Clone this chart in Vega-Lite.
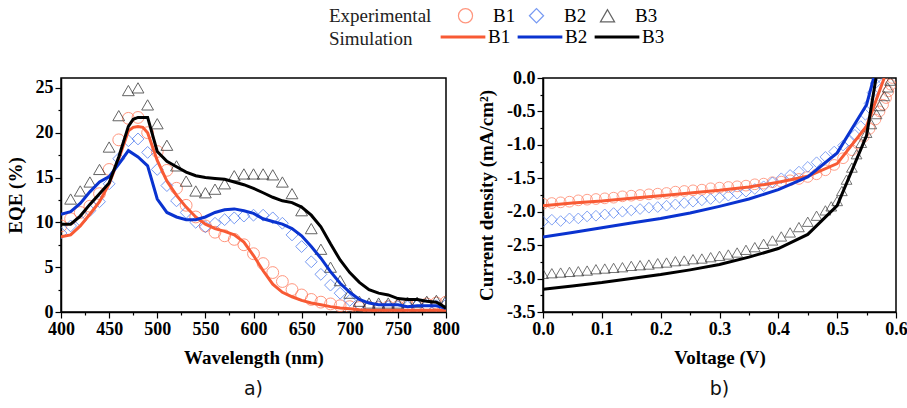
{
 "$schema": "https://vega.github.io/schema/vega-lite/v6.json",
 "background": "white",
 "padding": {"left": 5, "top": 6, "right": 5, "bottom": 5},
 "datasets": {
  "eqeExp": [
   {"wl":400,"eqe":9.6,"sample":"B1"},{"wl":410,"eqe":10.4,"sample":"B1"},{"wl":420,"eqe":11.1,"sample":"B1"},{"wl":430,"eqe":11.8,"sample":"B1"},{"wl":440,"eqe":13.2,"sample":"B1"},{"wl":450,"eqe":15.9,"sample":"B1"},{"wl":460,"eqe":19.2,"sample":"B1"},{"wl":470,"eqe":21.6,"sample":"B1"},{"wl":480,"eqe":21.7,"sample":"B1"},{"wl":490,"eqe":20.0,"sample":"B1"},{"wl":500,"eqe":17.9,"sample":"B1"},{"wl":510,"eqe":15.8,"sample":"B1"},{"wl":520,"eqe":13.8,"sample":"B1"},{"wl":530,"eqe":11.9,"sample":"B1"},{"wl":540,"eqe":10.6,"sample":"B1"},{"wl":550,"eqe":9.6,"sample":"B1"},{"wl":560,"eqe":8.9,"sample":"B1"},{"wl":570,"eqe":8.5,"sample":"B1"},{"wl":580,"eqe":8.1,"sample":"B1"},{"wl":590,"eqe":7.5,"sample":"B1"},{"wl":600,"eqe":6.5,"sample":"B1"},{"wl":610,"eqe":5.4,"sample":"B1"},{"wl":620,"eqe":4.4,"sample":"B1"},{"wl":630,"eqe":3.4,"sample":"B1"},{"wl":640,"eqe":2.5,"sample":"B1"},{"wl":650,"eqe":1.9,"sample":"B1"},{"wl":660,"eqe":1.4,"sample":"B1"},{"wl":670,"eqe":1.1,"sample":"B1"},{"wl":680,"eqe":0.9,"sample":"B1"},{"wl":690,"eqe":0.7,"sample":"B1"},{"wl":700,"eqe":0.6,"sample":"B1"},{"wl":710,"eqe":0.5,"sample":"B1"},{"wl":720,"eqe":0.5,"sample":"B1"},{"wl":730,"eqe":0.5,"sample":"B1"},{"wl":740,"eqe":0.6,"sample":"B1"},{"wl":750,"eqe":0.6,"sample":"B1"},{"wl":760,"eqe":0.7,"sample":"B1"},{"wl":770,"eqe":0.8,"sample":"B1"},{"wl":780,"eqe":0.9,"sample":"B1"},{"wl":790,"eqe":1.0,"sample":"B1"},{"wl":800,"eqe":1.1,"sample":"B1"},
   {"wl":400,"eqe":8.8,"sample":"B2"},{"wl":410,"eqe":9.6,"sample":"B2"},{"wl":420,"eqe":10.2,"sample":"B2"},{"wl":430,"eqe":11.3,"sample":"B2"},{"wl":440,"eqe":12.3,"sample":"B2"},{"wl":450,"eqe":14.3,"sample":"B2"},{"wl":460,"eqe":17.1,"sample":"B2"},{"wl":470,"eqe":19.1,"sample":"B2"},{"wl":480,"eqe":19.3,"sample":"B2"},{"wl":490,"eqe":17.8,"sample":"B2"},{"wl":500,"eqe":15.9,"sample":"B2"},{"wl":510,"eqe":14.1,"sample":"B2"},{"wl":520,"eqe":12.4,"sample":"B2"},{"wl":530,"eqe":11.1,"sample":"B2"},{"wl":540,"eqe":10.0,"sample":"B2"},{"wl":550,"eqe":9.5,"sample":"B2"},{"wl":560,"eqe":9.9,"sample":"B2"},{"wl":570,"eqe":10.3,"sample":"B2"},{"wl":580,"eqe":10.5,"sample":"B2"},{"wl":590,"eqe":10.7,"sample":"B2"},{"wl":600,"eqe":10.8,"sample":"B2"},{"wl":610,"eqe":10.8,"sample":"B2"},{"wl":620,"eqe":10.5,"sample":"B2"},{"wl":630,"eqe":9.9,"sample":"B2"},{"wl":640,"eqe":8.6,"sample":"B2"},{"wl":650,"eqe":7.3,"sample":"B2"},{"wl":660,"eqe":5.6,"sample":"B2"},{"wl":670,"eqe":4.2,"sample":"B2"},{"wl":680,"eqe":3.0,"sample":"B2"},{"wl":690,"eqe":2.1,"sample":"B2"},{"wl":700,"eqe":1.3,"sample":"B2"},{"wl":710,"eqe":0.8,"sample":"B2"},{"wl":720,"eqe":0.6,"sample":"B2"},{"wl":730,"eqe":0.6,"sample":"B2"},{"wl":740,"eqe":0.6,"sample":"B2"},{"wl":750,"eqe":0.6,"sample":"B2"},{"wl":760,"eqe":0.6,"sample":"B2"},{"wl":770,"eqe":0.7,"sample":"B2"},{"wl":780,"eqe":0.7,"sample":"B2"},{"wl":790,"eqe":0.7,"sample":"B2"},{"wl":800,"eqe":0.8,"sample":"B2"},
   {"wl":410,"eqe":12.6,"sample":"B3"},{"wl":420,"eqe":13.5,"sample":"B3"},{"wl":430,"eqe":14.5,"sample":"B3"},{"wl":440,"eqe":15.9,"sample":"B3"},{"wl":450,"eqe":18.4,"sample":"B3"},{"wl":460,"eqe":21.9,"sample":"B3"},{"wl":470,"eqe":24.7,"sample":"B3"},{"wl":480,"eqe":25.0,"sample":"B3"},{"wl":490,"eqe":23.1,"sample":"B3"},{"wl":500,"eqe":21.0,"sample":"B3"},{"wl":510,"eqe":18.6,"sample":"B3"},{"wl":520,"eqe":16.3,"sample":"B3"},{"wl":530,"eqe":14.6,"sample":"B3"},{"wl":540,"eqe":13.5,"sample":"B3"},{"wl":550,"eqe":13.3,"sample":"B3"},{"wl":560,"eqe":13.7,"sample":"B3"},{"wl":570,"eqe":14.3,"sample":"B3"},{"wl":580,"eqe":15.2,"sample":"B3"},{"wl":590,"eqe":15.4,"sample":"B3"},{"wl":600,"eqe":15.4,"sample":"B3"},{"wl":610,"eqe":15.4,"sample":"B3"},{"wl":620,"eqe":15.3,"sample":"B3"},{"wl":630,"eqe":14.5,"sample":"B3"},{"wl":640,"eqe":13.2,"sample":"B3"},{"wl":650,"eqe":11.3,"sample":"B3"},{"wl":660,"eqe":9.3,"sample":"B3"},{"wl":670,"eqe":7.0,"sample":"B3"},{"wl":680,"eqe":5.0,"sample":"B3"},{"wl":690,"eqe":3.5,"sample":"B3"},{"wl":700,"eqe":2.1,"sample":"B3"},{"wl":710,"eqe":1.2,"sample":"B3"},{"wl":720,"eqe":1.0,"sample":"B3"},{"wl":730,"eqe":1.0,"sample":"B3"},{"wl":740,"eqe":1.0,"sample":"B3"},{"wl":750,"eqe":1.0,"sample":"B3"},{"wl":760,"eqe":1.1,"sample":"B3"},{"wl":770,"eqe":1.1,"sample":"B3"},{"wl":780,"eqe":1.2,"sample":"B3"},{"wl":790,"eqe":1.3,"sample":"B3"},{"wl":800,"eqe":1.3,"sample":"B3"}
  ],
  "eqeSim": [
   {"wl":400,"eqe":8.4,"curve":"B1"},{"wl":410,"eqe":8.6,"curve":"B1"},{"wl":420,"eqe":9.6,"curve":"B1"},{"wl":430,"eqe":10.9,"curve":"B1"},{"wl":440,"eqe":12.3,"curve":"B1"},{"wl":450,"eqe":14.3,"curve":"B1"},{"wl":460,"eqe":17.1,"curve":"B1"},{"wl":470,"eqe":20.2,"curve":"B1"},{"wl":475,"eqe":20.6,"curve":"B1"},{"wl":480,"eqe":20.7,"curve":"B1"},{"wl":485,"eqe":20.6,"curve":"B1"},{"wl":490,"eqe":20.0,"curve":"B1"},{"wl":500,"eqe":16.9,"curve":"B1"},{"wl":510,"eqe":14.6,"curve":"B1"},{"wl":520,"eqe":13.0,"curve":"B1"},{"wl":530,"eqe":11.7,"curve":"B1"},{"wl":540,"eqe":10.6,"curve":"B1"},{"wl":550,"eqe":9.8,"curve":"B1"},{"wl":560,"eqe":9.3,"curve":"B1"},{"wl":570,"eqe":9.0,"curve":"B1"},{"wl":580,"eqe":8.6,"curve":"B1"},{"wl":590,"eqe":7.8,"curve":"B1"},{"wl":600,"eqe":6.3,"curve":"B1"},{"wl":610,"eqe":4.6,"curve":"B1"},{"wl":620,"eqe":3.1,"curve":"B1"},{"wl":630,"eqe":2.2,"curve":"B1"},{"wl":640,"eqe":1.7,"curve":"B1"},{"wl":650,"eqe":1.3,"curve":"B1"},{"wl":660,"eqe":1.0,"curve":"B1"},{"wl":670,"eqe":0.8,"curve":"B1"},{"wl":680,"eqe":0.6,"curve":"B1"},{"wl":690,"eqe":0.45,"curve":"B1"},{"wl":700,"eqe":0.35,"curve":"B1"},{"wl":710,"eqe":0.25,"curve":"B1"},{"wl":720,"eqe":0.2,"curve":"B1"},{"wl":760,"eqe":0.2,"curve":"B1"},{"wl":800,"eqe":0.2,"curve":"B1"},
   {"wl":400,"eqe":10.9,"curve":"B2"},{"wl":410,"eqe":11.2,"curve":"B2"},{"wl":420,"eqe":12.1,"curve":"B2"},{"wl":430,"eqe":13.4,"curve":"B2"},{"wl":440,"eqe":14.5,"curve":"B2"},{"wl":450,"eqe":15.1,"curve":"B2"},{"wl":460,"eqe":16.5,"curve":"B2"},{"wl":470,"eqe":18.0,"curve":"B2"},{"wl":480,"eqe":17.3,"curve":"B2"},{"wl":490,"eqe":16.3,"curve":"B2"},{"wl":500,"eqe":12.6,"curve":"B2"},{"wl":510,"eqe":11.1,"curve":"B2"},{"wl":520,"eqe":10.6,"curve":"B2"},{"wl":530,"eqe":10.3,"curve":"B2"},{"wl":540,"eqe":10.3,"curve":"B2"},{"wl":550,"eqe":10.6,"curve":"B2"},{"wl":560,"eqe":11.1,"curve":"B2"},{"wl":570,"eqe":11.4,"curve":"B2"},{"wl":580,"eqe":11.5,"curve":"B2"},{"wl":590,"eqe":11.3,"curve":"B2"},{"wl":600,"eqe":11.0,"curve":"B2"},{"wl":610,"eqe":10.4,"curve":"B2"},{"wl":620,"eqe":10.1,"curve":"B2"},{"wl":630,"eqe":9.8,"curve":"B2"},{"wl":640,"eqe":9.3,"curve":"B2"},{"wl":650,"eqe":8.5,"curve":"B2"},{"wl":660,"eqe":7.3,"curve":"B2"},{"wl":670,"eqe":6.0,"curve":"B2"},{"wl":680,"eqe":4.5,"curve":"B2"},{"wl":690,"eqe":3.2,"curve":"B2"},{"wl":700,"eqe":2.2,"curve":"B2"},{"wl":710,"eqe":1.4,"curve":"B2"},{"wl":720,"eqe":1.0,"curve":"B2"},{"wl":730,"eqe":0.8,"curve":"B2"},{"wl":740,"eqe":0.8,"curve":"B2"},{"wl":750,"eqe":0.8,"curve":"B2"},{"wl":760,"eqe":0.6,"curve":"B2"},{"wl":770,"eqe":0.7,"curve":"B2"},{"wl":780,"eqe":0.7,"curve":"B2"},{"wl":790,"eqe":0.7,"curve":"B2"},{"wl":800,"eqe":0.4,"curve":"B2"},
   {"wl":400,"eqe":9.8,"curve":"B3"},{"wl":410,"eqe":9.8,"curve":"B3"},{"wl":420,"eqe":10.7,"curve":"B3"},{"wl":430,"eqe":12.0,"curve":"B3"},{"wl":440,"eqe":13.2,"curve":"B3"},{"wl":450,"eqe":14.4,"curve":"B3"},{"wl":460,"eqe":17.3,"curve":"B3"},{"wl":470,"eqe":20.7,"curve":"B3"},{"wl":475,"eqe":21.5,"curve":"B3"},{"wl":480,"eqe":21.7,"curve":"B3"},{"wl":490,"eqe":21.7,"curve":"B3"},{"wl":500,"eqe":17.9,"curve":"B3"},{"wl":510,"eqe":16.8,"curve":"B3"},{"wl":520,"eqe":16.2,"curve":"B3"},{"wl":530,"eqe":15.6,"curve":"B3"},{"wl":540,"eqe":15.2,"curve":"B3"},{"wl":550,"eqe":15.0,"curve":"B3"},{"wl":560,"eqe":14.9,"curve":"B3"},{"wl":570,"eqe":14.8,"curve":"B3"},{"wl":580,"eqe":14.5,"curve":"B3"},{"wl":590,"eqe":14.2,"curve":"B3"},{"wl":600,"eqe":13.8,"curve":"B3"},{"wl":610,"eqe":13.3,"curve":"B3"},{"wl":620,"eqe":12.8,"curve":"B3"},{"wl":630,"eqe":12.4,"curve":"B3"},{"wl":640,"eqe":12.2,"curve":"B3"},{"wl":650,"eqe":11.7,"curve":"B3"},{"wl":660,"eqe":10.8,"curve":"B3"},{"wl":670,"eqe":9.5,"curve":"B3"},{"wl":680,"eqe":7.6,"curve":"B3"},{"wl":690,"eqe":5.8,"curve":"B3"},{"wl":700,"eqe":4.4,"curve":"B3"},{"wl":710,"eqe":3.3,"curve":"B3"},{"wl":720,"eqe":2.5,"curve":"B3"},{"wl":730,"eqe":2.1,"curve":"B3"},{"wl":740,"eqe":1.9,"curve":"B3"},{"wl":750,"eqe":1.5,"curve":"B3"},{"wl":760,"eqe":1.4,"curve":"B3"},{"wl":770,"eqe":1.4,"curve":"B3"},{"wl":780,"eqe":1.2,"curve":"B3"},{"wl":790,"eqe":1.1,"curve":"B3"},{"wl":795,"eqe":0.8,"curve":"B3"},{"wl":800,"eqe":0.4,"curve":"B3"}
  ],
  "jvExp": [
   {"v":0,"j":-1.88,"sample":"B1"},{"v":0.015,"j":-1.87,"sample":"B1"},{"v":0.03,"j":-1.86,"sample":"B1"},{"v":0.045,"j":-1.85,"sample":"B1"},{"v":0.06,"j":-1.83,"sample":"B1"},{"v":0.075,"j":-1.82,"sample":"B1"},{"v":0.09,"j":-1.81,"sample":"B1"},{"v":0.105,"j":-1.8,"sample":"B1"},{"v":0.12,"j":-1.79,"sample":"B1"},{"v":0.135,"j":-1.77,"sample":"B1"},{"v":0.15,"j":-1.76,"sample":"B1"},{"v":0.165,"j":-1.75,"sample":"B1"},{"v":0.18,"j":-1.74,"sample":"B1"},{"v":0.195,"j":-1.73,"sample":"B1"},{"v":0.21,"j":-1.72,"sample":"B1"},{"v":0.225,"j":-1.7,"sample":"B1"},{"v":0.24,"j":-1.69,"sample":"B1"},{"v":0.255,"j":-1.68,"sample":"B1"},{"v":0.27,"j":-1.67,"sample":"B1"},{"v":0.285,"j":-1.65,"sample":"B1"},{"v":0.3,"j":-1.64,"sample":"B1"},{"v":0.315,"j":-1.63,"sample":"B1"},{"v":0.33,"j":-1.62,"sample":"B1"},{"v":0.345,"j":-1.61,"sample":"B1"},{"v":0.36,"j":-1.59,"sample":"B1"},{"v":0.375,"j":-1.58,"sample":"B1"},{"v":0.39,"j":-1.56,"sample":"B1"},{"v":0.405,"j":-1.55,"sample":"B1"},{"v":0.42,"j":-1.53,"sample":"B1"},{"v":0.435,"j":-1.51,"sample":"B1"},{"v":0.45,"j":-1.48,"sample":"B1"},{"v":0.465,"j":-1.44,"sample":"B1"},{"v":0.48,"j":-1.38,"sample":"B1"},{"v":0.495,"j":-1.3,"sample":"B1"},{"v":0.51,"j":-1.2,"sample":"B1"},{"v":0.525,"j":-1.08,"sample":"B1"},{"v":0.535,"j":-0.98,"sample":"B1"},{"v":0.545,"j":-0.88,"sample":"B1"},{"v":0.555,"j":-0.76,"sample":"B1"},{"v":0.565,"j":-0.62,"sample":"B1"},{"v":0.572,"j":-0.5,"sample":"B1"},{"v":0.578,"j":-0.4,"sample":"B1"},{"v":0.583,"j":-0.3,"sample":"B1"},{"v":0.587,"j":-0.2,"sample":"B1"},{"v":0.591,"j":-0.1,"sample":"B1"},{"v":0.594,"j":0,"sample":"B1"},
   {"v":0,"j":-2.15,"sample":"B2"},{"v":0.015,"j":-2.12,"sample":"B2"},{"v":0.03,"j":-2.14,"sample":"B2"},{"v":0.045,"j":-2.1,"sample":"B2"},{"v":0.06,"j":-2.1,"sample":"B2"},{"v":0.075,"j":-2.07,"sample":"B2"},{"v":0.09,"j":-2.06,"sample":"B2"},{"v":0.105,"j":-2.04,"sample":"B2"},{"v":0.12,"j":-2.02,"sample":"B2"},{"v":0.135,"j":-2.0,"sample":"B2"},{"v":0.15,"j":-1.98,"sample":"B2"},{"v":0.165,"j":-1.96,"sample":"B2"},{"v":0.18,"j":-1.94,"sample":"B2"},{"v":0.195,"j":-1.93,"sample":"B2"},{"v":0.21,"j":-1.91,"sample":"B2"},{"v":0.225,"j":-1.89,"sample":"B2"},{"v":0.24,"j":-1.87,"sample":"B2"},{"v":0.255,"j":-1.85,"sample":"B2"},{"v":0.27,"j":-1.83,"sample":"B2"},{"v":0.285,"j":-1.81,"sample":"B2"},{"v":0.3,"j":-1.79,"sample":"B2"},{"v":0.315,"j":-1.76,"sample":"B2"},{"v":0.33,"j":-1.73,"sample":"B2"},{"v":0.345,"j":-1.7,"sample":"B2"},{"v":0.36,"j":-1.66,"sample":"B2"},{"v":0.375,"j":-1.62,"sample":"B2"},{"v":0.39,"j":-1.56,"sample":"B2"},{"v":0.405,"j":-1.5,"sample":"B2"},{"v":0.42,"j":-1.45,"sample":"B2"},{"v":0.435,"j":-1.4,"sample":"B2"},{"v":0.45,"j":-1.33,"sample":"B2"},{"v":0.465,"j":-1.26,"sample":"B2"},{"v":0.48,"j":-1.18,"sample":"B2"},{"v":0.495,"j":-1.1,"sample":"B2"},{"v":0.51,"j":-1.01,"sample":"B2"},{"v":0.52,"j":-0.94,"sample":"B2"},{"v":0.53,"j":-0.85,"sample":"B2"},{"v":0.54,"j":-0.72,"sample":"B2"},{"v":0.548,"j":-0.55,"sample":"B2"},{"v":0.555,"j":-0.38,"sample":"B2"},{"v":0.56,"j":-0.22,"sample":"B2"},{"v":0.565,"j":-0.08,"sample":"B2"},{"v":0.568,"j":0,"sample":"B2"},
   {"v":0,"j":-2.93,"sample":"B3"},{"v":0.015,"j":-2.92,"sample":"B3"},{"v":0.03,"j":-2.91,"sample":"B3"},{"v":0.045,"j":-2.9,"sample":"B3"},{"v":0.06,"j":-2.89,"sample":"B3"},{"v":0.075,"j":-2.88,"sample":"B3"},{"v":0.09,"j":-2.86,"sample":"B3"},{"v":0.105,"j":-2.85,"sample":"B3"},{"v":0.12,"j":-2.84,"sample":"B3"},{"v":0.135,"j":-2.83,"sample":"B3"},{"v":0.15,"j":-2.81,"sample":"B3"},{"v":0.165,"j":-2.8,"sample":"B3"},{"v":0.18,"j":-2.79,"sample":"B3"},{"v":0.195,"j":-2.77,"sample":"B3"},{"v":0.21,"j":-2.76,"sample":"B3"},{"v":0.225,"j":-2.74,"sample":"B3"},{"v":0.24,"j":-2.73,"sample":"B3"},{"v":0.255,"j":-2.71,"sample":"B3"},{"v":0.27,"j":-2.7,"sample":"B3"},{"v":0.285,"j":-2.68,"sample":"B3"},{"v":0.3,"j":-2.66,"sample":"B3"},{"v":0.315,"j":-2.64,"sample":"B3"},{"v":0.33,"j":-2.61,"sample":"B3"},{"v":0.345,"j":-2.57,"sample":"B3"},{"v":0.36,"j":-2.53,"sample":"B3"},{"v":0.375,"j":-2.48,"sample":"B3"},{"v":0.39,"j":-2.43,"sample":"B3"},{"v":0.405,"j":-2.37,"sample":"B3"},{"v":0.42,"j":-2.31,"sample":"B3"},{"v":0.435,"j":-2.23,"sample":"B3"},{"v":0.45,"j":-2.15,"sample":"B3"},{"v":0.465,"j":-2.06,"sample":"B3"},{"v":0.48,"j":-1.98,"sample":"B3"},{"v":0.49,"j":-1.92,"sample":"B3"},{"v":0.5,"j":-1.84,"sample":"B3"},{"v":0.508,"j":-1.69,"sample":"B3"},{"v":0.516,"j":-1.52,"sample":"B3"},{"v":0.525,"j":-1.34,"sample":"B3"},{"v":0.533,"j":-1.14,"sample":"B3"},{"v":0.541,"j":-0.97,"sample":"B3"},{"v":0.55,"j":-0.82,"sample":"B3"},{"v":0.558,"j":-0.69,"sample":"B3"},{"v":0.567,"j":-0.54,"sample":"B3"},{"v":0.572,"j":-0.42,"sample":"B3"},{"v":0.58,"j":-0.27,"sample":"B3"},{"v":0.586,"j":-0.14,"sample":"B3"},{"v":0.59,"j":-0.04,"sample":"B3"}
  ],
  "jvSim": [
   {"v":0,"j":-1.91,"curve":"B1"},{"v":0.05,"j":-1.87,"curve":"B1"},{"v":0.1,"j":-1.84,"curve":"B1"},{"v":0.15,"j":-1.8,"curve":"B1"},{"v":0.2,"j":-1.76,"curve":"B1"},{"v":0.25,"j":-1.72,"curve":"B1"},{"v":0.3,"j":-1.68,"curve":"B1"},{"v":0.35,"j":-1.63,"curve":"B1"},{"v":0.4,"j":-1.56,"curve":"B1"},{"v":0.45,"j":-1.47,"curve":"B1"},{"v":0.5,"j":-1.28,"curve":"B1"},{"v":0.55,"j":-0.72,"curve":"B1"},{"v":0.58,"j":0,"curve":"B1"},
   {"v":0,"j":-2.38,"curve":"B2"},{"v":0.05,"j":-2.31,"curve":"B2"},{"v":0.1,"j":-2.24,"curve":"B2"},{"v":0.15,"j":-2.17,"curve":"B2"},{"v":0.2,"j":-2.1,"curve":"B2"},{"v":0.25,"j":-2.02,"curve":"B2"},{"v":0.3,"j":-1.92,"curve":"B2"},{"v":0.35,"j":-1.81,"curve":"B2"},{"v":0.4,"j":-1.67,"curve":"B2"},{"v":0.45,"j":-1.48,"curve":"B2"},{"v":0.5,"j":-1.12,"curve":"B2"},{"v":0.55,"j":-0.4,"curve":"B2"},{"v":0.562,"j":0,"curve":"B2"},
   {"v":0,"j":-3.16,"curve":"B3"},{"v":0.05,"j":-3.11,"curve":"B3"},{"v":0.1,"j":-3.06,"curve":"B3"},{"v":0.15,"j":-3.0,"curve":"B3"},{"v":0.2,"j":-2.94,"curve":"B3"},{"v":0.25,"j":-2.87,"curve":"B3"},{"v":0.3,"j":-2.79,"curve":"B3"},{"v":0.35,"j":-2.68,"curve":"B3"},{"v":0.4,"j":-2.55,"curve":"B3"},{"v":0.45,"j":-2.34,"curve":"B3"},{"v":0.5,"j":-1.91,"curve":"B3"},{"v":0.55,"j":-0.86,"curve":"B3"},{"v":0.566,"j":0,"curve":"B3"}
  ]
 },
 "spacing": 15,
 "hconcat": [
  {
   "width": 385, "height": 234,
   "title": {"text": "a)", "orient": "bottom", "font": "DejaVu Sans", "fontSize": 19, "fontWeight": "normal", "color": "#111", "offset": 13},
   "resolve": {"axis": {"x": "independent", "y": "independent"}},
   "layer": [
    {
     "data": {"name": "eqeExp"},
     "mark": {"type": "point", "filled": false, "size": 140, "strokeWidth": 1, "clip": true},
     "encoding": {
      "x": {"field": "wl", "type": "quantitative", "scale": {"domain": [400, 800], "nice": false},
            "axis": {"title": "Wavelength (nm)", "orient": "bottom", "values": [400,450,500,550,600,650,700,750,800], "format": "d", "tickSize": 6}},
      "y": {"field": "eqe", "type": "quantitative", "scale": {"domain": [0, 26.1], "nice": false},
            "axis": {"title": "EQE (%)", "orient": "left", "values": [0,5,10,15,20,25], "format": "d", "tickSize": 6}},
      "color": {"field": "sample", "type": "nominal", "scale": {"range": ["#FF6A48","#3D6FEE","#222222"]},
                "legend": {"title": "Experimental", "orient": "none", "legendX": 268, "legendY": -72, "direction": "horizontal", "titleOrient": "left", "titlePadding": 24, "titleFont": "Liberation Serif", "titleFontWeight": "normal", "titleFontSize": 19, "symbolSize": 200, "symbolStrokeWidth": 1.2, "labelOffset": 18, "columnPadding": 11}},
      "shape": {"field": "sample", "type": "nominal", "scale": {"range": ["circle","diamond","triangle-up"]},
                "legend": {"title": "Experimental", "orient": "none", "legendX": 268, "legendY": -72, "direction": "horizontal", "titleOrient": "left", "titlePadding": 24, "titleFont": "Liberation Serif", "titleFontWeight": "normal", "titleFontSize": 19, "symbolSize": 200, "symbolStrokeWidth": 1.2, "labelOffset": 18, "columnPadding": 11}}
     }
    },
    {
     "data": {"name": "eqeSim"},
     "mark": {"type": "line", "strokeWidth": 3, "clip": true},
     "encoding": {
      "x": {"field": "wl", "type": "quantitative",
            "axis": {"title": null, "orient": "bottom", "labels": false, "domain": false, "tickSize": 3, "values": [425,475,525,575,625,675,725,775]}},
      "y": {"field": "eqe", "type": "quantitative",
            "axis": {"title": null, "orient": "left", "labels": false, "domain": false, "tickSize": 3, "values": [2.5,7.5,12.5,17.5,22.5]}},
      "stroke": {"field": "curve", "type": "nominal", "scale": {"range": ["#F85A34","#0A33D0","#000000"]},
                 "legend": {"title": "Simulation", "orient": "none", "legendX": 268, "legendY": -65, "direction": "horizontal", "titleOrient": "left", "titleAnchor": "middle", "titleBaseline": "top", "titlePadding": 26, "titleFont": "Liberation Serif", "titleFontWeight": "normal", "titleFontSize": 19, "symbolType": "stroke", "symbolSize": 2000, "symbolStrokeWidth": 3, "labelOffset": 1, "columnPadding": 0}}
     }
    }
   ]
  },
  {
   "width": 353, "height": 234,
   "title": {"text": "b)", "orient": "bottom", "font": "DejaVu Sans", "fontSize": 19, "fontWeight": "normal", "color": "#111", "offset": 13},
   "resolve": {"axis": {"x": "independent", "y": "independent"}},
   "layer": [
    {
     "data": {"name": "jvExp"},
     "mark": {"type": "point", "filled": false, "size": 115, "strokeWidth": 0.9, "clip": true},
     "encoding": {
      "x": {"field": "v", "type": "quantitative", "scale": {"domain": [0, 0.6], "nice": false},
            "axis": {"title": "Voltage (V)", "orient": "bottom", "values": [0,0.1,0.2,0.3,0.4,0.5,0.6], "format": ".1f", "tickSize": 6}},
      "y": {"field": "j", "type": "quantitative", "scale": {"domain": [-3.5, 0], "nice": false},
            "axis": {"title": "Current density (mA/cm²)", "orient": "left", "values": [-3.5,-3,-2.5,-2,-1.5,-1,-0.5,0], "format": ".1f",
                     "labelExpr": "replace(datum.label, '\u2212', '-')", "tickSize": 6}},
      "color": {"field": "sample", "type": "nominal", "scale": {"range": ["#FF6A48","#3D6FEE","#222222"]},
                "legend": {"title": "Experimental", "orient": "none", "legendX": 268, "legendY": -72, "direction": "horizontal", "titleOrient": "left", "titlePadding": 24, "titleFont": "Liberation Serif", "titleFontWeight": "normal", "titleFontSize": 19, "symbolSize": 200, "symbolStrokeWidth": 1.2, "labelOffset": 18, "columnPadding": 11}},
      "shape": {"field": "sample", "type": "nominal", "scale": {"range": ["circle","diamond","triangle-up"]},
                "legend": {"title": "Experimental", "orient": "none", "legendX": 268, "legendY": -72, "direction": "horizontal", "titleOrient": "left", "titlePadding": 24, "titleFont": "Liberation Serif", "titleFontWeight": "normal", "titleFontSize": 19, "symbolSize": 200, "symbolStrokeWidth": 1.2, "labelOffset": 18, "columnPadding": 11}}
     }
    },
    {
     "data": {"name": "jvSim"},
     "mark": {"type": "line", "strokeWidth": 3, "clip": true},
     "encoding": {
      "x": {"field": "v", "type": "quantitative",
            "axis": {"title": null, "orient": "bottom", "labels": false, "domain": false, "tickSize": 3, "values": [0.05,0.15,0.25,0.35,0.45,0.55]}},
      "y": {"field": "j", "type": "quantitative",
            "axis": {"title": null, "orient": "left", "labels": false, "domain": false, "tickSize": 3, "values": [-3.25,-2.75,-2.25,-1.75,-1.25,-0.75,-0.25]}},
      "stroke": {"field": "curve", "type": "nominal", "scale": {"range": ["#F85A34","#0A33D0","#000000"]},
                 "legend": {"title": "Simulation", "orient": "none", "legendX": 268, "legendY": -65, "direction": "horizontal", "titleOrient": "left", "titleAnchor": "middle", "titleBaseline": "top", "titlePadding": 26, "titleFont": "Liberation Serif", "titleFontWeight": "normal", "titleFontSize": 19, "symbolType": "stroke", "symbolSize": 2000, "symbolStrokeWidth": 3, "labelOffset": 1, "columnPadding": 0}}
     }
    }
   ]
  }
 ],
 "config": {
  "view": {"stroke": "black", "strokeWidth": 1.5},
  "axis": {"labelFont": "Liberation Serif", "labelFontSize": 18, "labelFontWeight": "bold", "labelColor": "black",
           "titleFont": "Liberation Serif", "titleFontSize": 19, "titleFontWeight": "bold", "titleColor": "black",
           "domainColor": "black", "domainWidth": 1.5, "tickColor": "black", "tickWidth": 1.2, "grid": false,
           "labelPadding": 2, "titlePadding": 10, "labelFlush": false, "labelOverlap": false},
  "legend": {"labelFont": "Liberation Serif", "labelFontSize": 19, "titleFont": "Liberation Serif", "titleFontSize": 19,
             "titleFontWeight": "normal", "labelColor": "black", "titleColor": "#222"}
 }
}
